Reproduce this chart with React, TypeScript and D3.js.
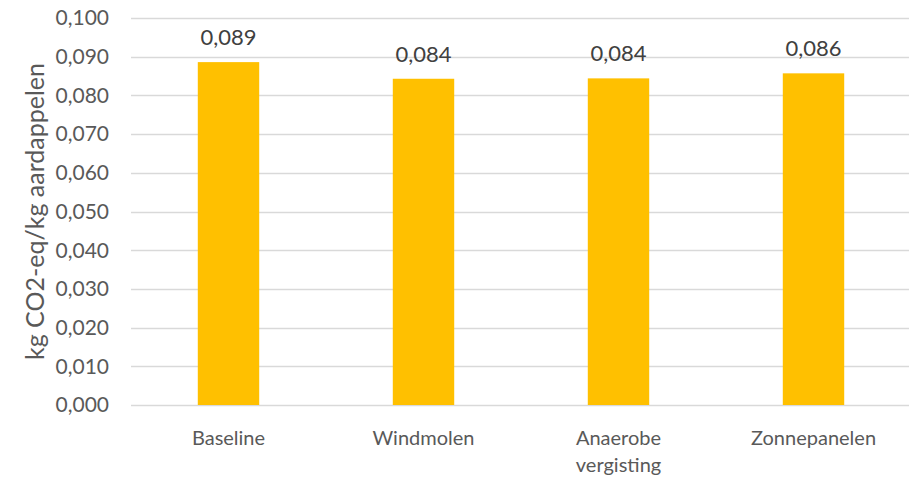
import { useEffect, useRef } from 'react';
import * as d3 from 'd3';

const categories = ['Baseline', 'Windmolen', 'Anaerobe vergisting', 'Zonnepanelen'];
const values = [0.0886, 0.0843, 0.0844, 0.0857];
const valueLabels = ['0,089', '0,084', '0,084', '0,086'];
const yTicks = [0, 0.01, 0.02, 0.03, 0.04, 0.05, 0.06, 0.07, 0.08, 0.09, 0.1];

const width = 909;
const height = 477;
const margin = { top: 18, right: -2, bottom: 72, left: 131 };
const font = 'Lato, "Open Sans", sans-serif';

const App = () => {
  const svgRef = useRef<SVGSVGElement>(null);

  useEffect(() => {
    if (!svgRef.current) return;
    const svg = d3.select(svgRef.current);
    svg.selectAll('*').remove();

    const x = d3
      .scaleBand<string>()
      .domain(categories)
      .range([margin.left, width - margin.right])
      .paddingInner(0.685)
      .paddingOuter(0.3425);

    const y = d3
      .scaleLinear()
      .domain([0, 0.1])
      .range([height - margin.bottom, margin.top]);

    // gridlines
    svg
      .append('g')
      .selectAll('line')
      .data(yTicks)
      .join('line')
      .attr('x1', margin.left)
      .attr('x2', width - margin.right)
      .attr('y1', (d) => Math.round(y(d)) + 0.5)
      .attr('y2', (d) => Math.round(y(d)) + 0.5)
      .attr('stroke', '#d9d9d9')
      .attr('stroke-width', 1.3);

    // y tick labels
    svg
      .append('g')
      .selectAll('text')
      .data(yTicks)
      .join('text')
      .attr('x', 109)
      .attr('y', (d) => y(d))
      .attr('dy', '0.35em')
      .attr('text-anchor', 'end')
      .attr('fill', '#595959')
      .attr('font-family', font)
      .attr('font-size', 21)
      .text((d) => d3.format('.3f')(d).replace('.', ','));

    // bars
    svg
      .append('g')
      .selectAll('rect')
      .data(values)
      .join('rect')
      .attr('x', (_, i) => x(categories[i])!)
      .attr('width', x.bandwidth())
      .attr('y', (d) => y(d))
      .attr('height', (d) => y(0) - y(d))
      .attr('fill', '#FFC000');

    // value labels
    svg
      .append('g')
      .selectAll('text')
      .data(values)
      .join('text')
      .attr('x', (_, i) => x(categories[i])! + x.bandwidth() / 2)
      .attr('y', (d) => y(d) - 17)
      .attr('text-anchor', 'middle')
      .attr('fill', '#404040')
      .attr('font-family', font)
      .attr('font-size', 22)
      .text((_, i) => valueLabels[i]);

    // category labels (wrap two-word labels)
    const cat = svg
      .append('g')
      .selectAll('text')
      .data(categories)
      .join('text')
      .attr('text-anchor', 'middle')
      .attr('fill', '#595959')
      .attr('font-family', font)
      .attr('font-size', 20)
      .attr('transform', (d) => `translate(${x(d)! + x.bandwidth() / 2},${y(0) + 40})`);

    cat.each(function (d) {
      const words = d.split(' ');
      d3.select(this)
        .selectAll('tspan')
        .data(words)
        .join('tspan')
        .attr('x', 0)
        .attr('dy', (_, i) => (i === 0 ? 0 : 27))
        .text((w) => w);
    });

    // axis title
    svg
      .append('text')
      .attr('transform', `translate(44,${(y(0) + y(0.1)) / 2}) rotate(-90)`)
      .attr('text-anchor', 'middle')
      .attr('fill', '#595959')
      .attr('font-family', font)
      .attr('font-size', 25)
      .text('kg CO2-eq/kg aardappelen');
  }, []);

  return (
    <svg
      ref={svgRef}
      width={width}
      height={height}
      style={{ position: 'absolute', left: 0, top: 0, background: '#fff' }}
    />
  );
};

export default App;
